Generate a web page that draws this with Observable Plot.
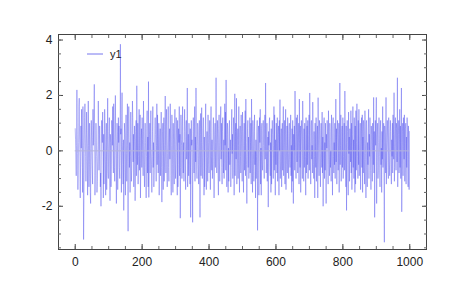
<!DOCTYPE html>
<html>
<head>
<meta charset="utf-8">
<script src="https://cdn.jsdelivr.net/npm/d3@7"></script>
<script src="https://cdn.jsdelivr.net/npm/@observablehq/plot@0.6"></script>
<style>
  html, body { margin: 0; padding: 0; background: #fff; }
  #wrap { position: relative; width: 450px; height: 300px; }
  #legend { position: absolute; left: 87px; top: 48px; font: 11px "Liberation Sans", Arial, sans-serif; color: #222; display: flex; align-items: center; }
  #legend svg { display: block; }
</style>
</head>
<body>
<div id="wrap"><div id="legend"><svg width="16" height="4"><line x1="0" x2="16" y1="2" y2="2" stroke="#7777ee" stroke-width="1"/></svg><span style="margin-left:7px">y1</span></div></div>
<script>
const seriesName = "y1";
const y1 = [
0.8,0.4,-0.3,-0.9,0.2,2.2,0.6,-0.1,-1.4,-0.7,0.3,1.6,1.9,0.5,-0.2,-1.7,-0.4,0.9,0.1,1.5,
0.3,-0.6,-1.5,1.6,0.2,-3.2,-1.8,-0.1,1.2,1.7,0.9,-0.2,-1.1,-0.4,1.4,0.6,0.0,-1.6,-0.3,1.8,
0.2,-1.3,-0.5,1.0,0.4,-1.5,-1.9,0.1,1.1,0.5,-0.3,-0.8,-1.2,1.5,0.2,0.9,1.3,2.4,0.3,-1.6,
-0.9,0.1,1.0,0.5,-0.2,-1.5,-1.1,-0.4,0.2,1.8,0.6,-0.7,-0.1,0.9,0.4,-1.3,-0.8,-2.0,-0.3,1.1,
0.7,0.3,1.4,-0.2,-1.7,0.6,-1.2,0.0,1.5,0.8,-0.3,-1.6,0.2,1.0,-1.4,-0.5,0.4,1.9,-0.7,-1.0,
0.1,0.7,1.2,-0.4,-1.8,0.6,0.3,-1.3,-0.5,1.1,0.8,0.2,1.6,-0.1,-0.8,1.7,0.4,-0.6,-1.1,0.9,
2.0,0.5,-0.3,-1.9,0.2,1.0,0.7,-1.4,-0.2,1.2,0.3,0.9,-0.6,-1.0,-0.1,3.85,0.6,0.8,-1.5,1.1,
2.1,0.3,-0.5,-1.2,0.4,-2.15,-0.8,1.0,0.6,-0.3,-1.6,0.5,1.3,-0.1,-1.1,0.2,1.7,-0.4,-2.9,0.4,
1.6,1.0,-0.6,0.3,-1.5,-0.2,1.4,0.5,-1.1,-0.7,0.1,1.8,1.2,-0.4,0.6,-1.3,-0.1,0.9,0.4,-1.8,
-0.3,0.7,1.1,-0.9,2.35,0.2,-0.5,1.0,-1.2,-0.2,0.6,1.5,-0.7,0.3,1.3,-1.7,-0.4,0.5,0.8,-0.6,
1.2,0.4,-0.1,-0.9,1.8,0.7,-0.5,-1.3,0.2,1.0,0.3,-0.6,-1.7,-0.2,0.9,1.45,-0.8,0.5,-1.3,2.5,
-1.68,-0.3,0.6,1.0,-0.8,0.4,1.45,0.1,-0.5,-1.5,-0.2,0.7,1.6,-0.6,0.3,-1.3,-0.7,0.0,0.8,1.2,
0.6,-0.4,-1.1,0.2,1.7,-0.5,1.3,0.4,-0.8,-0.1,1.0,-1.6,-0.3,0.5,0.8,-0.9,0.1,1.4,-0.6,-1.85,
-0.2,0.7,1.0,-1.4,0.3,1.2,-1.1,-0.4,0.5,1.98,0.2,-0.8,0.9,1.5,-0.5,-1.3,-0.1,0.4,1.6,-0.6,
-1.1,0.3,0.8,-0.3,1.7,0.5,-0.9,-1.6,0.2,1.3,0.7,-0.5,-1.5,1.0,0.4,-0.8,-1.2,0.9,1.5,-0.4,
-1.0,0.1,1.2,0.5,-0.3,-1.6,1.1,-1.3,-0.5,0.8,0.3,1.6,-0.9,0.6,-2.43,-0.6,1.3,0.4,0.2,-1.0,
0.9,1.6,-0.4,-0.8,0.3,-1.1,0.7,1.5,0.5,-0.2,-1.4,0.8,1.1,-0.3,0.2,2.27,-1.3,-0.5,0.6,-0.9,
1.0,0.5,-0.3,-1.2,0.8,-2.4,-0.6,1.1,0.2,0.4,-0.9,-2.58,0.7,1.2,-0.1,-0.8,0.3,1.6,-1.1,0.5,
-0.4,2.27,0.6,-0.7,-1.0,0.2,1.0,0.8,-0.5,-1.2,0.4,1.1,-0.3,-2.4,0.6,1.35,-0.9,0.3,1.56,-0.6,
-1.0,0.1,0.8,1.2,-0.4,-1.6,0.5,-1.3,0.0,0.9,1.7,-0.6,-1.4,0.4,0.7,-0.2,-1.1,1.3,0.3,-0.5,
-0.8,0.6,1.1,-0.3,-1.4,0.9,1.6,-0.2,-0.7,0.4,-1.0,-0.5,0.8,1.2,0.1,-1.7,-0.3,0.6,1.0,-0.6,
0.3,2.64,0.5,-0.8,-0.2,1.1,0.4,-0.9,-1.6,0.8,1.3,-0.4,-1.1,0.2,0.9,1.6,-0.3,1.0,-0.6,-1.2,
0.7,1.2,-0.1,-0.8,0.4,-1.0,-0.4,1.7,0.2,1.4,-0.7,2.56,0.5,-1.3,-0.3,1.0,0.6,-1.5,0.1,-1.1,
0.8,1.1,-0.5,-0.2,0.4,-1.3,-0.6,0.9,1.5,-0.1,0.6,-1.0,0.3,1.2,0.5,-1.6,-0.4,2.06,-0.9,0.7,
1.0,-0.3,1.9,-1.2,-0.6,0.4,0.8,-1.0,0.2,1.6,-0.5,-1.5,0.6,0.9,-0.2,-0.8,1.3,0.5,-0.4,-1.1,
1.4,0.7,-0.3,-1.5,0.2,1.0,-0.7,0.4,1.45,-0.9,1.87,0.3,-0.5,-1.9,-0.2,0.8,1.1,-0.6,0.5,-1.0,
-0.4,0.9,1.2,-0.8,0.3,1.0,-1.2,1.87,0.6,-0.1,-1.5,1.1,0.5,-0.3,-1.1,0.7,1.3,-0.5,0.0,-1.7,
0.4,-1.0,-0.2,0.8,1.1,-2.87,-0.6,0.5,0.9,-1.6,-0.4,1.2,0.3,1.5,-1.2,0.1,-1.6,0.8,1.0,-0.3,
-0.7,0.4,1.1,0.2,-0.5,-1.0,0.9,1.3,-0.3,2.45,0.6,-0.8,-0.2,1.0,-1.1,-0.4,0.5,-2.03,0.7,0.2,
1.0,1.2,-0.6,-0.9,0.3,-1.5,0.8,-1.2,0.5,1.1,0.6,-0.4,-1.0,0.2,1.6,-0.7,1.3,-0.3,-1.6,0.4,
-0.5,1.0,0.3,-0.8,1.2,-1.1,-0.2,0.6,0.9,-1.6,1.1,0.0,1.85,-1.0,-0.4,0.5,0.8,-1.3,0.2,1.0,
-0.7,0.4,1.6,-0.9,-0.3,0.3,1.1,-1.2,0.6,1.5,-1.4,-0.5,0.2,0.9,-0.8,1.2,0.5,-0.1,-1.0,0.7,
1.0,-0.3,-0.6,0.4,1.3,-0.9,0.2,-1.5,0.8,-1.1,1.1,-0.4,-1.9,0.6,0.0,0.9,-0.7,2.16,0.5,-0.2,
-1.0,1.2,0.7,-0.4,1.3,-0.8,-0.2,0.3,1.0,-1.2,1.87,0.4,-0.6,0.9,-1.5,0.2,1.1,0.6,-0.5,-1.0,
1.8,0.5,-0.3,-1.1,0.8,-0.6,1.0,0.4,-0.2,-1.6,1.2,-0.8,0.3,0.9,-0.5,1.1,-1.0,-0.1,0.6,1.3,
-0.7,2.09,0.5,-0.4,-1.2,0.9,1.1,-0.3,0.2,-0.8,1.76,0.4,-0.5,-1.0,0.7,-0.2,-1.7,1.0,0.3,-0.6,
1.2,-1.1,-0.4,0.6,0.9,-1.7,1.92,0.5,-0.3,-0.9,1.1,0.7,-0.1,-1.3,0.4,1.0,0.2,-0.6,1.4,-0.8,
0.5,-2.0,-0.4,0.9,1.2,-1.0,0.3,-0.7,1.0,-0.2,-1.9,0.6,0.1,1.1,0.8,-0.5,-1.2,1.45,0.4,-0.3,
-0.9,1.0,0.7,-0.6,0.0,-1.1,1.3,0.5,-0.4,-1.6,0.9,1.2,-0.2,-0.8,0.3,-0.5,1.0,-1.0,0.6,1.87,
-0.4,0.8,-1.2,0.3,1.1,0.5,-0.7,-0.1,1.0,-1.5,0.6,2.45,-0.5,0.2,1.3,-1.1,-0.3,0.7,0.9,-0.6,
1.2,-1.0,-0.2,0.4,1.0,-0.7,2.16,0.6,-0.4,-1.3,0.9,-2.15,0.3,1.1,0.7,-0.5,-1.6,1.4,-0.1,0.5,
-1.1,0.8,0.2,-0.4,1.45,-0.8,1.0,-1.4,-0.3,0.6,1.6,-0.6,0.4,-1.0,1.2,0.1,-1.5,0.9,-1.2,1.45,
-0.7,0.3,1.7,0.6,-0.2,-1.0,1.1,-0.5,1.5,-0.9,-0.3,0.4,1.0,-1.4,0.0,0.7,1.2,-0.6,1.3,-1.5,
0.5,-0.8,1.1,0.7,-0.3,-1.2,1.45,0.4,-0.1,-1.7,1.0,1.1,-0.6,-1.3,0.3,-0.5,0.8,1.5,-1.0,0.6,
-0.2,1.2,0.4,-0.7,-1.4,0.9,0.6,-0.3,-1.1,1.0,0.3,-0.5,1.93,-0.8,0.7,-2.4,-0.6,1.1,0.2,0.8,
1.93,-1.9,-0.4,0.5,1.0,-1.0,-0.7,0.3,1.2,0.6,-0.2,-1.3,0.8,1.1,-0.5,0.1,-1.5,0.7,-0.3,1.6,
-0.6,0.4,1.0,-1.1,-3.3,0.9,0.6,-0.4,-0.8,1.93,-1.2,-0.1,0.3,1.1,0.5,-0.7,-1.0,1.2,0.8,-0.4,
-0.9,0.2,1.1,0.7,-0.5,-1.2,0.4,-0.2,1.0,-0.8,1.3,0.6,-0.3,2.1,-1.1,-0.6,0.5,1.2,0.1,-0.7,
1.0,0.8,-0.4,2.64,-1.3,-0.2,0.6,1.1,-0.8,0.4,1.5,-0.6,0.9,-1.0,0.3,2.27,-2.2,-0.5,0.7,1.0,
-0.9,1.2,0.6,-0.3,1.3,-1.1,-0.4,0.8,1.0,-1.2,0.5,-0.6,1.2,0.7,-0.2,-1.3,0.9,0.1,-1.4,0.7
];
const xTicks = [0, 200, 400, 600, 800, 1000];
const yTicks = [-2, 0, 2, 4];
const xMinorTicks = d3.range(0, 1001, 50);
const yMinorTicks = d3.range(-3.5, 4.01, 0.5);

const data = y1.map((v, i) => ({x: i, y: v}));
const font = "Liberation Sans, Arial, sans-serif";
const plain = d => String(d);

const chart = Plot.plot({
  width: 450,
  height: 300,
  marginLeft: 58,
  marginRight: 24,
  marginTop: 34,
  marginBottom: 51,
  style: {fontFamily: font, fontSize: "12px", color: "#222", background: "#fff"},
  x: {domain: [-50, 1050]},
  y: {domain: [-3.56, 4.2]},
  marks: [
    Plot.line(data, {x: "x", y: "y", stroke: "#5555ee", strokeWidth: 0.5, strokeOpacity: 0.85}),
    Plot.ruleY([0], {x1: 0, x2: data.length - 1, stroke: "#b4b4dc", strokeWidth: 1}),
    Plot.frame({stroke: "#444", strokeWidth: 1}),
    // labels
    Plot.axisX({anchor: "bottom", ticks: xTicks, tickSize: 0, tickPadding: 8, tickFormat: plain, label: null, fontSize: 12}),
    Plot.axisY({anchor: "left", ticks: yTicks, tickSize: 0, tickPadding: 6, tickFormat: plain, label: null, fontSize: 12}),
    // inward ticks, major
    Plot.axisX({anchor: "bottom", ticks: xTicks, tickSize: 5, dy: -5, tickFormat: () => "", label: null, stroke: "#444"}),
    Plot.axisX({anchor: "top", ticks: xTicks, tickSize: 5, dy: 5, tickFormat: () => "", label: null, stroke: "#444"}),
    Plot.axisY({anchor: "left", ticks: yTicks, tickSize: 5, dx: 5, tickFormat: () => "", label: null, stroke: "#444"}),
    Plot.axisY({anchor: "right", ticks: yTicks, tickSize: 5, dx: -5, tickFormat: () => "", label: null, stroke: "#444"}),
    // minor
    Plot.axisX({anchor: "bottom", ticks: xMinorTicks, tickSize: 3, dy: -3, tickFormat: () => "", label: null, stroke: "#666"}),
    Plot.axisX({anchor: "top", ticks: xMinorTicks, tickSize: 3, dy: 3, tickFormat: () => "", label: null, stroke: "#666"}),
    Plot.axisY({anchor: "left", ticks: yMinorTicks, tickSize: 3, dx: 3, tickFormat: () => "", label: null, stroke: "#666"}),
    Plot.axisY({anchor: "right", ticks: yMinorTicks, tickSize: 3, dx: -3, tickFormat: () => "", label: null, stroke: "#666"})
  ]
});
document.getElementById("wrap").prepend(chart);
</script>
</body>
</html>
